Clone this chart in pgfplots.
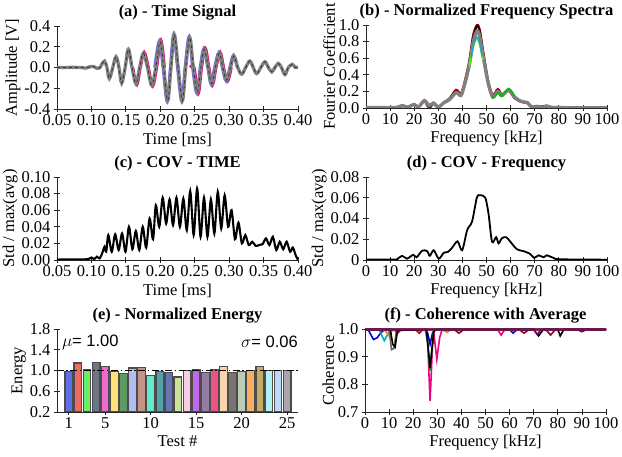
\documentclass[border=0pt]{standalone}
\usepackage{fontspec}
\setmainfont{Liberation Serif}
\newfontfamily\sansf{Liberation Sans}
\usepackage{pgfplots}
\pgfplotsset{compat=1.18}
\usepackage{pgfplotstable}

\newcommand\fs{\fontsize{16.5}{18}\selectfont}

% bar colours, panel (e)
\definecolor{b1}{HTML}{5F6FE8}
\definecolor{b2}{HTML}{F06A62}
\definecolor{b3}{HTML}{6AEE6A}
\definecolor{b4}{HTML}{6E7686}
\definecolor{b5}{HTML}{EE6ACC}
\definecolor{b6}{HTML}{FFE27A}
\definecolor{b7}{HTML}{5E9A62}
\definecolor{b8}{HTML}{B4BCF4}
\definecolor{b9}{HTML}{C49488}
\definecolor{b10}{HTML}{66EACC}
\definecolor{b11}{HTML}{52A2AA}
\definecolor{b12}{HTML}{6474B4}
\definecolor{b13}{HTML}{CCE29C}
\definecolor{b14}{HTML}{F8CCE2}
\definecolor{b15}{HTML}{C466EA}
\definecolor{b16}{HTML}{947CA4}
\definecolor{b17}{HTML}{EA5484}
\definecolor{b18}{HTML}{F8D4AC}
\definecolor{b19}{HTML}{7A7474}
\definecolor{b20}{HTML}{BCCCB4}
\definecolor{b21}{HTML}{F8AC64}
\definecolor{b22}{HTML}{C4AC64}
\definecolor{b23}{HTML}{B4F2FA}
\definecolor{b24}{HTML}{BCDAF8}
\definecolor{b25}{HTML}{ACA4AC}

\pgfplotsset{
  panel/.style={
    scale only axis, width=241pt, height=83pt,
    axis lines=left, axis line style={-, black!85, line width=0.8pt},
    tick align=center, major tick length=6pt,
    tick style={black!85, line width=0.8pt},
    ticklabel style={font=\fs}, label style={font=\fs},
    title style={font=\fs\bfseries, yshift=-4pt},
    /pgf/number format/assume math mode=true,
    scaled ticks=false,
    xticklabel style={yshift=1pt},
    ylabel style={yshift=-3pt},
  },
}

% (a) time signal, average-looking trace
\pgfplotstableread{
t a
0.050 0.000
0.070 0.001
0.085 0.000
0.092 -0.006
0.098 0.008
0.103 0.010
0.108 -0.008
0.112 -0.004
0.115 0.030
0.119 0.062
0.1225 0.0
0.126 -0.107
0.131 0.0
0.1357 0.104
0.140 0.0
0.1439 -0.150
0.149 0.0
0.1536 0.176
0.159 0.0
0.1647 -0.156
0.170 0.0
0.1754 0.137
0.1815 0.0
0.1875 -0.170
0.1935 0.0
0.1996 0.250
0.205 0.0
0.2107 -0.320
0.2155 0.0
0.2204 0.315
0.226 0.0
0.232 -0.320
0.237 0.0
0.2427 0.290
0.248 0.0
0.2538 -0.240
0.259 0.0
0.264 0.176
0.2695 0.0
0.2746 -0.156
0.280 0.0
0.2857 0.137
0.291 0.0
0.2964 -0.124
0.302 0.0
0.307 0.110
0.3125 0.0
0.3182 -0.065
0.324 0.0
0.330 0.062
0.335 0.0
0.340 -0.059
0.346 0.0
0.352 0.055
0.357 0.0
0.362 -0.042
0.3665 0.0
0.3714 0.039
0.376 0.0
0.381 -0.068
0.386 0.0
0.3918 0.030
0.396 0.000
0.400 0.007
}\sigA

% magenta trace, two visible stretches
\pgfplotstableread{
t a
0.160 0.0
0.1659 -0.165
0.171 0.0
0.1766 0.145
0.1827 0.0
0.1887 -0.180
0.1947 0.0
0.2008 0.262
0.206 0.0
}\sigMa

\pgfplotstableread{
t a
0.2435 0.0
0.249 0.0
0.2550 -0.252
0.260 0.0
0.2652 0.186
0.2707 0.0
0.2758 -0.166
0.281 0.0
0.2869 0.145
0.292 0.0
0.2976 -0.132
0.303 0.0
}\sigMb

\pgfplotstableread{
t a
0.192 0.0
0.1988 0.258
0.204 0.0
0.2099 -0.325
0.2147 0.0
0.2196 0.322
0.225 0.0
0.2312 -0.326
0.236 0.0
0.2419 0.298
0.247 0.0
0.2530 -0.246
0.258 0.0
0.2632 0.182
0.269 0.0
0.2738 -0.160
0.279 0.0
0.2849 0.142
0.290 0.0
0.2956 -0.128
0.301 0.0
0.3062 0.116
0.312 0.0
}\sigB

% (b) normalised spectrum
\pgfplotstableread{
f a
0 0.005
5 0.005
10 0.004
13 0.008
15.1 0.030
17.2 0.010
20 0.040
21.8 0.012
24.2 0.090
26.2 0.030
28 0.060
30 0.012
32.5 0.067
34.6 0.100
37.4 0.185
39.4 0.150
40.8 0.270
42.9 0.520
44.5 0.800
46.1 0.930
47.2 0.860
48.5 0.640
50.6 0.310
52.6 0.130
54.7 0.200
56.4 0.150
59.2 0.220
61.7 0.130
64.4 0.080
67 0.065
68.6 0.015
71.1 0.020
73.2 0.008
74.9 0.025
77 0.008
80 0.005
90 0.002
100 0.002
}\specG

\pgfplotstableread{
f a
0 0.005
13 0.008
15.1 0.030
17.2 0.010
20 0.045
21.8 0.012
24.2 0.085
26.2 0.005
28 0.055
30 0.010
32.5 0.070
34.6 0.110
37.4 0.215
39.4 0.165
40.8 0.290
42.9 0.560
44.5 0.870
46.1 1.000
47.2 0.930
48.5 0.690
50.6 0.330
52.6 0.150
54.7 0.225
56.4 0.160
59.2 0.210
61.7 0.120
64.4 0.075
67 0.060
68.6 0.012
71.1 0.018
74.9 0.020
77 0.006
100 0.002
}\specR

% (c) COV time
\pgfplotstableread{
t c
0.050 0.0005
0.080 0.0008
0.095 0.001
0.100 0.003
0.104 0.001
0.108 0.004
0.112 0.002
0.116 0.009
0.119 0.016
0.1215 0.010
0.1245 0.030
0.1295 0.010
0.1345 0.031
0.1395 0.012
0.1445 0.032
0.1495 0.010
0.1545 0.040
0.1595 0.013
0.1645 0.035
0.1695 0.012
0.1745 0.040
0.1795 0.015
0.1845 0.050
0.1895 0.025
0.1935 0.066
0.1985 0.040
0.2035 0.075
0.2085 0.044
0.2135 0.073
0.2185 0.042
0.2235 0.075
0.2285 0.040
0.2335 0.074
0.2385 0.036
0.2435 0.083
0.2485 0.030
0.2535 0.086
0.2585 0.028
0.2635 0.075
0.2685 0.028
0.2735 0.073
0.2785 0.032
0.2835 0.082
0.2885 0.038
0.2935 0.078
0.2985 0.040
0.3035 0.060
0.3085 0.025
0.3135 0.045
0.3185 0.020
0.3235 0.030
0.3285 0.018
0.3335 0.022
0.3385 0.017
0.3435 0.018
0.3485 0.019
0.3535 0.026
0.3585 0.018
0.3635 0.028
0.3685 0.012
0.3735 0.022
0.3785 0.013
0.3835 0.022
0.3885 0.010
0.3925 0.015
0.3965 0.006
0.400 0.000
}\covT

% (d) COV frequency
\pgfplotstableread{
f c
0 0.0005
12 0.0005
13 0.001
15 0.004
17 0.0013
19.6 0.005
21 0.0026
23.3 0.009
25.4 0.0085
26.5 0.004
28.1 0.0094
30.2 0.0013
32.3 0.007
34 0.0078
35.7 0.0117
38 0.018
39.9 0.0094
42 0.029
44 0.037
46 0.060
47.4 0.0624
49.5 0.060
50.9 0.0436
52.3 0.0176
54 0.022
55 0.016
56.4 0.021
58.2 0.022
59.9 0.0176
62.6 0.0104
65.4 0.0085
68 0.006
69.8 0.002
71.6 0.0045
73.7 0.0026
75 0.0045
77.8 0.002
80.6 0.0007
100 0.0003
}\covF

\begin{document}
\begin{tikzpicture}
\useasboundingbox (0,0) rectangle (622pt,457pt);

% ---------------- (a)
\begin{axis}[panel, at={(57pt,348pt)}, anchor=south west,
  title={(a) - Time Signal},
  xmin=0.05, xmax=0.40, ymin=-0.4, ymax=0.4,
  xtick={0.05,0.10,...,0.40}, ytick={-0.4,-0.2,0,0.2,0.4},
  xticklabel style={/pgf/number format/.cd, fixed, fixed zerofill, precision=2},
  yticklabel style={/pgf/number format/.cd, fixed, fixed zerofill, precision=1},
  xlabel={Time [ms]}, ylabel={Amplitude [V]}]
\addplot[smooth, tension=0.6, color=magenta!80!red, line width=3pt] table[x=t, y=a] {\sigMa};
\addplot[smooth, tension=0.6, color=magenta!80!red, line width=3pt] table[x=t, y=a] {\sigMb};
\addplot[smooth, tension=0.6, color=blue!60, line width=3pt] table[x=t, y=a] {\sigB};
\addplot[smooth, tension=0.6, color=black!50, line width=3.3pt] table[x=t, y=a] {\sigA};
\addplot[smooth, tension=0.6, color=black!80, line width=0.8pt, dash pattern=on 3pt off 3pt] table[x=t, y=a] {\sigA};
\end{axis}

% ---------------- (b)
\begin{axis}[panel, at={(366pt,349pt)}, anchor=south west,
  title={(b) - Normalized Frequency Spectra},
  xmin=0, xmax=100, ymin=0, ymax=1.0,
  xtick={0,10,...,100}, ytick={0,0.2,...,1.0},
  yticklabel style={/pgf/number format/.cd, fixed, fixed zerofill, precision=1},
  xlabel={Frequency [kHz]}, ylabel={Fourier Coefficient}]
\addplot[smooth, color=red!60!black, line width=2.6pt] table[x=f, y=a] {\specR};
\addplot[smooth, color=black, line width=1.4pt] coordinates {
  (42.9,0.55) (44.5,0.86) (46.3,0.985) (47.3,0.91) (48.6,0.68) (50.6,0.33)};
\addplot[smooth, color=black!50, line width=3.3pt] table[x=f, y=a] {\specG};
\addplot[smooth, color=green!75!black, line width=1.6pt] coordinates {
  (52.6,0.12) (54.7,0.18) (56.4,0.14) (59.2,0.235) (61.7,0.14)};
\addplot[smooth, color=green!70!yellow, line width=1.6pt] coordinates {
  (42.9,0.50) (44.5,0.74) (46.0,0.83) (47.2,0.76) (48.5,0.58)};
\addplot[smooth, color=cyan!80!black, line width=1.4pt] coordinates {
  (43.5,0.60) (44.8,0.78) (46.0,0.855) (47.0,0.80) (48.2,0.62)};
\end{axis}

% ---------------- (c)
\begin{axis}[panel, at={(57pt,197pt)}, anchor=south west,
  title={(c) - COV - TIME},
  xmin=0.05, xmax=0.40, ymin=0, ymax=0.10,
  xtick={0.05,0.10,...,0.40}, ytick={0,0.02,...,0.10},
  xticklabel style={/pgf/number format/.cd, fixed, fixed zerofill, precision=2},
  yticklabel style={/pgf/number format/.cd, fixed, fixed zerofill, precision=2},
  xlabel={Time [ms]}, ylabel={Std / max(avg)}]
\addplot[smooth, tension=0.5, color=black, line width=2.1pt] table[x=t, y=c] {\covT};
\end{axis}

% ---------------- (d)
\begin{axis}[panel, at={(366pt,197pt)}, anchor=south west,
  title={(d) - COV - Frequency},
  xmin=0, xmax=100, ymin=0, ymax=0.08,
  xtick={0,10,...,100}, ytick={0,0.02,0.04,0.06,0.08},
  yticklabels={0,0.02,0.04,0.06,0.08},
  xlabel={Frequency [kHz]}, ylabel={Std / max(avg)}]
\addplot[smooth, tension=0.5, color=black, line width=1.8pt] table[x=f, y=c] {\covF};
\end{axis}

% ---------------- (e)
\begin{axis}[panel, at={(57pt,45pt)}, anchor=south west,
  title={(e) - Normalized Energy},
  xmin=-0.3, xmax=26.2, ymin=0.2, ymax=1.8,
  xtick={1,5,10,15,20,25}, ytick={0.2,0.6,1.0,1.4,1.8},
  yticklabel style={/pgf/number format/.cd, fixed, fixed zerofill, precision=1},
  xlabel={Test \#}, ylabel={Energy},
  every axis plot/.append style={ybar, bar width=0.85, bar shift=0pt,
    draw=black!70, line width=1.2pt}]
\addplot[fill=b1]  coordinates {(1,0.987)};
\addplot[fill=b2]  coordinates {(2,1.146)};
\addplot[fill=b3]  coordinates {(3,1.013)};
\addplot[fill=b4]  coordinates {(4,1.159)};
\addplot[fill=b5]  coordinates {(5,1.076)};
\addplot[fill=b6]  coordinates {(6,0.987)};
\addplot[fill=b7]  coordinates {(7,0.937)};
\addplot[fill=b8]  coordinates {(8,1.050)};
\addplot[fill=b9]  coordinates {(9,1.063)};
\addplot[fill=b10] coordinates {(10,0.905)};
\addplot[fill=b11] coordinates {(11,0.987)};
\addplot[fill=b12] coordinates {(12,0.968)};
\addplot[fill=b13] coordinates {(13,0.873)};
\addplot[fill=b14] coordinates {(14,1.000)};
\addplot[fill=b15] coordinates {(15,1.020)};
\addplot[fill=b16] coordinates {(16,0.968)};
\addplot[fill=b17] coordinates {(17,1.013)};
\addplot[fill=b18] coordinates {(18,1.076)};
\addplot[fill=b19] coordinates {(19,0.956)};
\addplot[fill=b20] coordinates {(20,0.987)};
\addplot[fill=b21] coordinates {(21,1.000)};
\addplot[fill=b22] coordinates {(22,1.076)};
\addplot[fill=b23] coordinates {(23,1.000)};
\addplot[fill=b24] coordinates {(24,1.000)};
\addplot[fill=b25] coordinates {(25,1.000)};
\addplot[sharp plot, draw=black, line width=1.2pt,
  dash pattern=on 7pt off 2.5pt on 1.5pt off 2.5pt] coordinates {(-0.3,1) (26.2,1)};
\node[anchor=west, font=\fs\sansf, inner sep=0pt] at (rel axis cs:0.02,0.84) {$\mu$= 1.00};
\node[anchor=east, font=\fs\sansf, inner sep=0pt] at (rel axis cs:1.0,0.84) {$\sigma$= 0.06};
\end{axis}

% ---------------- (f)
\begin{axis}[panel, at={(365pt,45pt)}, anchor=south west,
  title={(f) - Coherence with Average},
  xmin=0, xmax=100, ymin=0.7, ymax=1.0, clip=false,
  xtick={0,10,...,100}, ytick={0.7,0.8,0.9,1.0},
  yticklabel style={/pgf/number format/.cd, fixed, fixed zerofill, precision=1},
  xlabel={Frequency [kHz]}, ylabel={Coherence},
  every axis plot/.append style={line width=1.6pt}]
\addplot[color=black!45, line width=3pt] coordinates {(0,0.998) (100,0.998)};
\addplot[color=blue!85!black] coordinates {
  (0,0.999) (1.5,0.995) (3.5,0.962) (5,0.968) (6.5,0.985) (8,0.998) (25,0.998)
  (26,0.985) (27,0.945) (28,0.985) (29,0.998) (60,0.998) (61.5,0.985) (63,0.998) (100,0.998)};
\addplot[color=teal!60!cyan] coordinates {
  (0,0.998) (6,0.995) (8,0.958) (10,0.99) (11,0.998) (100,0.998)};
\addplot[color=orange] coordinates {
  (0,0.998) (8,0.998) (10,0.975) (11.5,0.998) (32,0.998) (34,0.988) (36,0.998) (100,0.998)};
\addplot[color=red!80!black] coordinates {
  (0,0.998) (12,0.998) (13.5,0.985) (15,0.998) (21,0.998) (22.5,0.985) (24,0.998) (100,0.998)};
\addplot[color=black!60] coordinates {
  (0,0.998) (10,0.998) (11,0.925) (12,0.93) (13,0.99) (14,0.998) (100,0.998)};
\addplot[color=magenta!90!red] coordinates {
  (0,0.998) (25,0.998) (26,0.95) (27,0.74) (28,0.94) (28.7,0.975) (29.8,0.89)
  (31,0.97) (32,0.998) (55,0.998) (56.5,0.978) (58,0.998) (100,0.998)};
\addplot[color=green!60!black] coordinates {
  (0,0.998) (25.5,0.998) (27,0.85) (28.5,0.998) (100,0.998)};
\addplot[color=black] coordinates {
  (0,0.998) (10.5,0.998) (11.5,0.945) (12.5,0.935) (13.5,0.995) (25.5,0.998)
  (27,0.86) (28.5,0.99) (29.5,0.998) (70,0.998) (72,0.975) (74,0.998)
  (80,0.998) (81,0.975) (82.5,0.998) (100,0.998)};
\addplot[color=purple!80!black] coordinates {
  (0,0.998) (37,0.998) (39,0.985) (41,0.998) (64,0.998) (66,0.985) (68,0.998)
  (75,0.998) (77,0.978) (79,0.998) (100,0.998)};
\addplot[color=violet] coordinates {
  (0,0.998) (70,0.998) (71.5,0.98) (73,0.998) (88,0.998) (90,0.99) (92,0.998) (100,0.998)};
\end{axis}
\end{tikzpicture}
\end{document}
